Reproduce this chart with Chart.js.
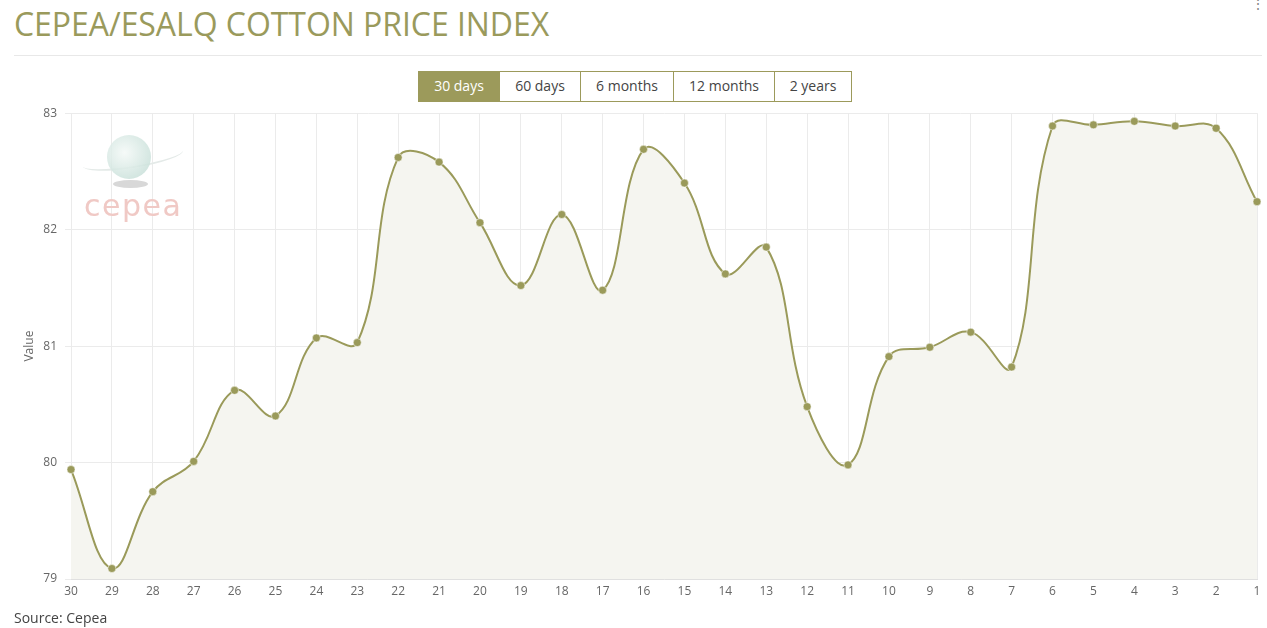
<!DOCTYPE html>
<html>
<head>
<meta charset="utf-8">
<script src="https://cdn.jsdelivr.net/npm/chart.js@4.4.1/dist/chart.umd.min.js"></script>
<style>
  html, body { margin: 0; padding: 0; background: #fff; font-family: "Open Sans", sans-serif; }
  body { width: 1267px; height: 628px; position: relative; overflow: hidden; }
  h1 { position: absolute; left: 14px; top: 2px; margin: 0; font-weight: 400; font-size: 32px; letter-spacing: -0.05px; color: #9a9a5c; }
  .rule { position: absolute; left: 14px; right: 5px; top: 55px; border-top: 1px solid #e8e8e8; }
  .menu { position: absolute; right: 2px; top: -6px; color: #888; font-size: 14px; }
  .btns { position: absolute; left: 418px; top: 71px; display: flex; }
  .btns span { box-sizing: border-box; height: 31px; line-height: 28px; border: 1px solid #9c9a5b; border-left: none; font-size: 14px; color: #444; text-align: center; background: #fff; }
  .btns span:first-child { border-left: 1px solid #9c9a5b; background: #9c9a5b; color: #fff; }
  .wrap { position: absolute; left: 0; top: 98px; width: 1267px; height: 512px; }
  .logo { position: absolute; left: 82px; top: 118px; width: 104px; height: 100px; pointer-events: none; }
  .logo .ball { position: absolute; left: 25px; top: 17px; width: 44px; height: 44px; border-radius: 50%; background: radial-gradient(circle at 40% 40%, #f4f9f7, #bcd9d1); opacity: .85; }
  .logo .ring { position: absolute; left: 0; top: 30px; width: 102px; height: 18px; border-radius: 50%; border-bottom: 2px solid #e4eae8; transform: rotate(-9deg); }
  .logo .shadow { position: absolute; left: 31px; top: 62px; width: 35px; height: 8px; border-radius: 50%; background: #d8d8d8; }
  .logo .txt { position: absolute; left: 2px; top: 70px; font-size: 30px; line-height: 35px; color: #f0c9c5; letter-spacing: 1.5px; font-family: "DejaVu Sans", sans-serif; }
  .source { position: absolute; left: 14px; top: 608px; font-size: 14px; color: #444; }
</style>
</head>
<body>
<h1>CEPEA/ESALQ COTTON PRICE INDEX</h1>
<div class="rule"></div>
<div class="menu">⋮</div>
<div class="btns">
  <span style="width:82px">30 days</span>
  <span style="width:81px">60 days</span>
  <span style="width:93px">6 months</span>
  <span style="width:101px">12 months</span>
  <span style="width:77px">2 years</span>
</div>
<div class="wrap"><canvas id="cotton"></canvas></div>
<div class="logo"><div class="ring"></div><div class="ball"></div><div class="shadow"></div><div class="txt">cepea</div></div>
<div class="source">Source: Cepea</div>
<script>
var dayLabels = ['30', '29', '28', '27', '26', '25', '24', '23', '22', '21', '20', '19', '18', '17', '16',
                 '15', '14', '13', '12', '11', '10', '9', '8', '7', '6', '5', '4', '3', '2', '1'];
var priceValues = [79.94, 79.09, 79.75, 80.01, 80.62, 80.40, 81.07, 81.03, 82.62, 82.58, 82.06, 81.52, 82.13, 81.48, 82.69,
                   82.40, 81.62, 81.85, 80.48, 79.98, 80.91, 80.99, 81.12, 80.82, 82.89, 82.90, 82.93, 82.89, 82.87, 82.24];
var yMin = 79;
var yMax = 83;

var olive = '#9a9a5a';

var ctx = document.getElementById('cotton').getContext('2d');

var cottonChart = new Chart(ctx, {
    type: 'line',
    data: {
        labels: dayLabels,
        datasets: [
            {
                label: 'Value',
                data: priceValues,
                borderColor: olive,
                backgroundColor: '#f5f5f0',
                borderWidth: 2,
                fill: 'start',
                tension: 0.4,
                pointRadius: 4,
                pointBackgroundColor: olive,
                pointBorderColor: '#fff',
                pointBorderWidth: 0.5
            }
        ]
    },
    options: {
        responsive: true,
        maintainAspectRatio: false,
        animation: false,
        layout: {
            padding: { left: 0, right: 10, top: 11, bottom: 0 }
        },
        plugins: {
            legend: { display: false },
            tooltip: { enabled: false }
        },
        scales: {
            y: {
                min: yMin,
                max: yMax,
                afterFit: function (scale) { scale.width = 71; },
                ticks: {
                    stepSize: 1,
                    padding: 8,
                    color: '#666',
                    font: { family: 'Open Sans', size: 12 }
                },
                grid: {
                    color: '#ebebeb',
                    tickLength: 6
                },
                border: { color: '#ebebeb' },
                title: {
                    display: true,
                    text: 'Value',
                    color: '#666',
                    padding: { top: 22, bottom: 0 },
                    font: { family: 'Open Sans', size: 12 }
                }
            },
            x: {
                afterFit: function (scale) { scale.height = 31; },
                ticks: {
                    padding: 5,
                    maxRotation: 0,
                    minRotation: 0,
                    autoSkip: false,
                    color: '#666',
                    font: { family: 'Open Sans', size: 12 }
                },
                grid: {
                    color: '#ebebeb',
                    drawTicks: false
                },
                border: { color: '#e0e0e0' }
            }
        }
    }
});
</script>
</body>
</html>
